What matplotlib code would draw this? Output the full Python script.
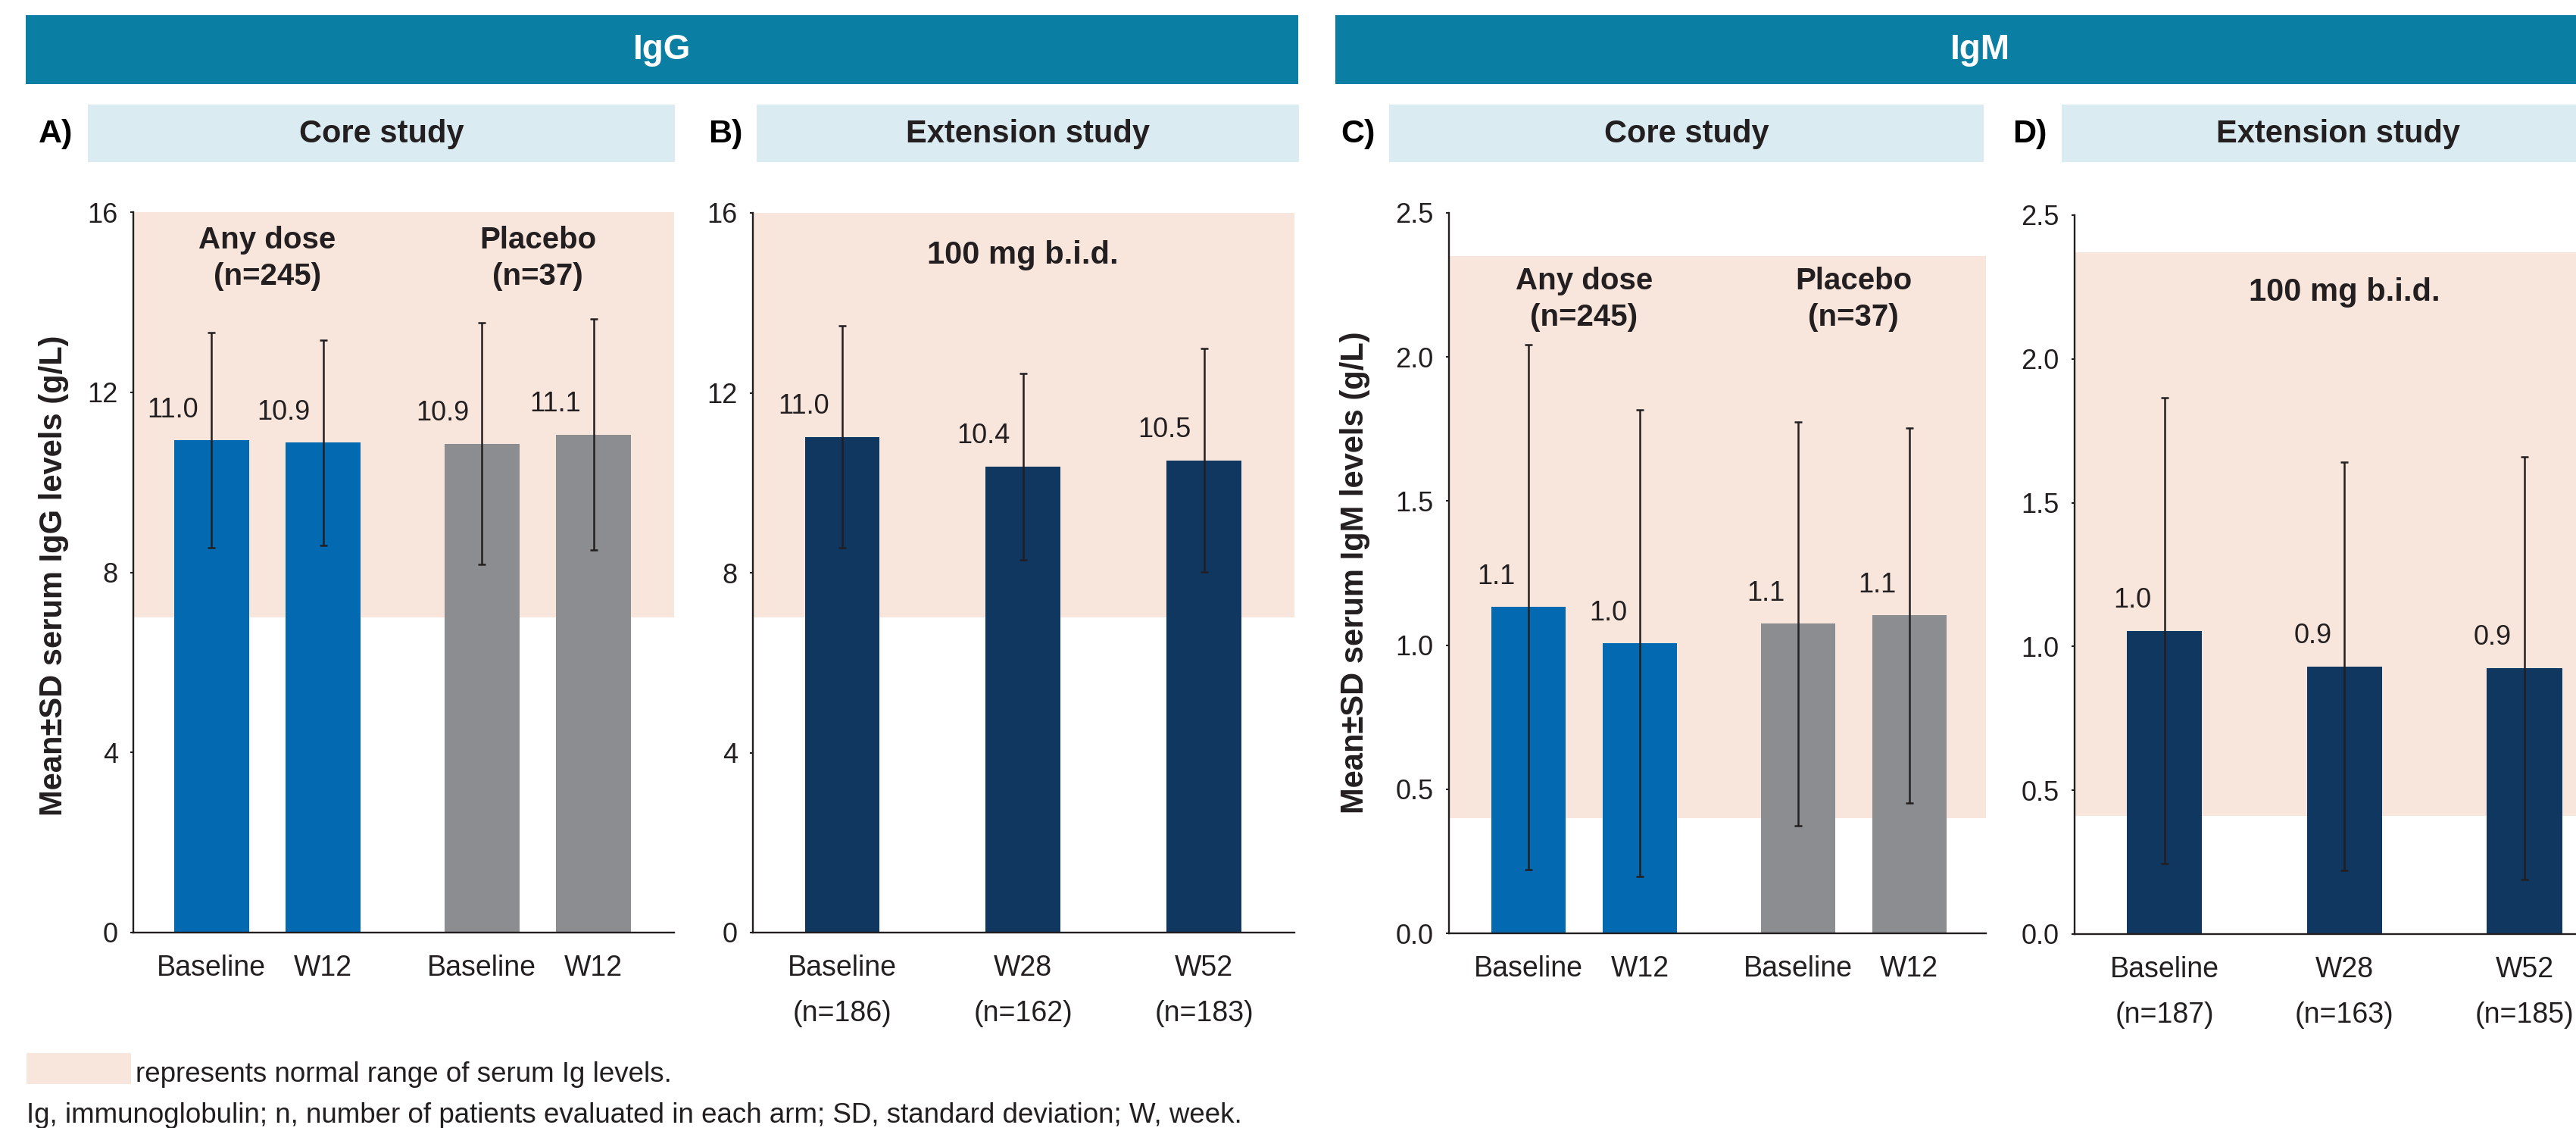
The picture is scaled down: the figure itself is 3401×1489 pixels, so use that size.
import matplotlib
matplotlib.use("Agg")
import matplotlib.pyplot as plt
from matplotlib.patches import Rectangle

# ---------------- data ----------------
core_ticks = ["Baseline", "W12", "Baseline", "W12"]
core_groups = ["Any dose\n(n=245)", "Placebo\n(n=37)"]
ext_group = "100 mg b.i.d."

igg_core_means = [10.93, 10.88, 10.86, 11.06]
igg_core_sd = [2.39, 2.28, 2.68, 2.56]
igg_core_labels = ["11.0", "10.9", "10.9", "11.1"]

igg_ext_ticks = ["Baseline\n(n=186)", "W28\n(n=162)", "W52\n(n=183)"]
igg_ext_means = [11.02, 10.36, 10.50]
igg_ext_sd = [2.47, 2.07, 2.48]
igg_ext_labels = ["11.0", "10.4", "10.5"]

igm_core_means = [1.132, 1.006, 1.074, 1.103]
igm_core_sd = [0.91, 0.81, 0.70, 0.65]
igm_core_labels = ["1.1", "1.0", "1.1", "1.1"]

igm_ext_ticks = ["Baseline\n(n=187)", "W28\n(n=163)", "W52\n(n=185)"]
igm_ext_means = [1.054, 0.931, 0.925]
igm_ext_sd = [0.81, 0.71, 0.735]
igm_ext_labels = ["1.0", "0.9", "0.9"]

igg_yticks = [0, 4, 8, 12, 16]
igg_yticklabels = ["0", "4", "8", "12", "16"]
igm_yticks = [0.0, 0.5, 1.0, 1.5, 2.0, 2.5]
igm_yticklabels = ["0.0", "0.5", "1.0", "1.5", "2.0", "2.5"]

igg_normal = (7.0, 16.0)
igm_core_normal = (0.40, 2.35)
igm_ext_normal = (0.41, 2.37)

# ---------------- style ----------------
plt.rcParams["font.family"] = ["Liberation Sans", "DejaVu Sans"]
DARK = "#231F20"
TEAL = "#0B7EA3"
LIGHTBLUE = "#DBEBF2"
PINK = "#F8E6DC"
BLUE = "#0369B1"
GREY = "#8C8D91"
NAVY = "#10375F"

W, H = 3401, 1489
DPI = 100
fig = plt.figure(figsize=(W / DPI, H / DPI), dpi=DPI)


def fx(x):
    return x / W


def fy(y):
    return 1 - y / H


def add_rect(x0, y0, x1, y1, color):
    fig.add_artist(Rectangle((fx(x0), fy(y1)), (x1 - x0) / W, (y1 - y0) / H,
                             transform=fig.transFigure, facecolor=color,
                             edgecolor="none", zorder=0))


def make_ax(x0, y0, x1, y1):
    return fig.add_axes([fx(x0), fy(y1), (x1 - x0) / W, (y1 - y0) / H])


# banners
add_rect(34, 20, 1714, 111, TEAL)
fig.text(fx(874), fy(66), "IgG", color="white", fontsize=33, fontweight="bold",
         ha="center", va="center")
add_rect(1763, 20, 3470, 111, TEAL)
fig.text(fx(2614), fy(66), "IgM", color="white", fontsize=33, fontweight="bold",
         ha="center", va="center")

# sub-title boxes
subs = [(116, 891, "A)", 74, "Core study"),
        (999, 1715, "B)", 958, "Extension study"),
        (1834, 2619, "C)", 1793, "Core study"),
        (2722, 3452, "D)", 2680, "Extension study")]
for x0, x1, lab, lx, txt in subs:
    add_rect(x0, 138, x1, 214, LIGHTBLUE)
    fig.text(fx((x0 + x1) / 2), fy(177), txt, color=DARK, fontsize=30,
             fontweight="bold", ha="center", va="center")
    fig.text(fx(lx), fy(177), lab, color="black", fontsize=31,
             fontweight="bold", ha="center", va="center")


def draw_panel(ax, pos, means, sds, labels, colors, ticklabels, ylim, yticks,
               yticklabels, band, xlim, width):
    ax.set_facecolor("none")
    ax.axhspan(band[0], band[1], color=PINK, lw=0, zorder=0)
    ax.bar(pos, means, width, color=colors, zorder=2)
    ax.errorbar(pos, means, yerr=sds, fmt="none", ecolor=DARK, elinewidth=1.8,
                capsize=3.6, capthick=1.8, zorder=3)
    for x, m, l in zip(pos, means, labels):
        ax.annotate(l, (x, m), xytext=(-17, 40), textcoords="offset pixels",
                    ha="right", va="center", fontsize=26, color=DARK, zorder=4)
    ax.set_xlim(xlim)
    ax.set_ylim(ylim)
    ax.set_xticks(pos)
    ax.set_xticklabels(ticklabels, fontsize=27, linespacing=1.85, color=DARK)
    ax.set_yticks(yticks)
    ax.set_yticklabels(yticklabels, fontsize=26, color=DARK)
    for s in ("top", "right"):
        ax.spines[s].set_visible(False)
    for s in ("left", "bottom"):
        ax.spines[s].set_color(DARK)
        ax.spines[s].set_linewidth(1.7)
    ax.tick_params(axis="x", length=0, pad=21)
    ax.tick_params(axis="y", length=3, width=1.5, pad=11.5, color=DARK)


core_pos = [0, 1, 2.42, 3.42]
ext_pos = [0, 1, 2]
core_colors = [BLUE, BLUE, GREY, GREY]

# Panel A
axA = make_ax(176, 280, 890, 1231)
draw_panel(axA, core_pos, igg_core_means, igg_core_sd, igg_core_labels,
           core_colors, core_ticks, (0, 16), igg_yticks, igg_yticklabels,
           igg_normal, (-0.70, 4.14), 0.67)
for i, g in enumerate(core_groups):
    axA.text((core_pos[2 * i] + core_pos[2 * i + 1]) / 2, 14.97, g, ha="center",
             va="center", fontsize=29, fontweight="bold", color=DARK,
             linespacing=1.35)

# Panel B
axB = make_ax(994, 281, 1709, 1231)
draw_panel(axB, ext_pos, igg_ext_means, igg_ext_sd, igg_ext_labels,
           [NAVY] * 3, igg_ext_ticks, (0, 16), igg_yticks, igg_yticklabels,
           igg_normal, (-0.494, 2.50), 0.414)
axB.text(ext_pos[1], 15.06, ext_group, ha="center", va="center", fontsize=30,
         fontweight="bold", color=DARK)

# Panel C
axC = make_ax(1913, 281, 2622, 1232)
draw_panel(axC, core_pos, igm_core_means, igm_core_sd, igm_core_labels,
           core_colors, core_ticks, (0, 2.5), igm_yticks, igm_yticklabels,
           igm_core_normal, (-0.714, 4.11), 0.667)
for i, g in enumerate(core_groups):
    axC.text((core_pos[2 * i] + core_pos[2 * i + 1]) / 2, 2.20, g, ha="center",
             va="center", fontsize=29, fontweight="bold", color=DARK,
             linespacing=1.35)

# Panel D
axD = make_ax(2739, 284, 3401, 1233)
draw_panel(axD, ext_pos, igm_ext_means, igm_ext_sd, igm_ext_labels,
           [NAVY] * 3, igm_ext_ticks, (0, 2.5), igm_yticks, igm_yticklabels,
           igm_ext_normal, (-0.50, 2.286), 0.417)
axD.text(ext_pos[1], 2.23, ext_group, ha="center", va="center", fontsize=30,
         fontweight="bold", color=DARK)

# y labels
fig.text(fx(71), fy(760), "Mean\u00b1SD serum IgG levels (g/L)", rotation=90,
         ha="center", va="center", fontsize=30, fontweight="bold", color=DARK)
fig.text(fx(1789), fy(756), "Mean\u00b1SD serum IgM levels (g/L)", rotation=90,
         ha="center", va="center", fontsize=30, fontweight="bold", color=DARK)

# footnotes
add_rect(35, 1390, 173, 1431, PINK)
fig.text(fx(179), fy(1428), "represents normal range of serum Ig levels.",
         fontsize=26.5, color=DARK, ha="left", va="baseline")
fig.text(fx(35), fy(1482),
         "Ig, immunoglobulin; n, number of patients evaluated in each arm; "
         "SD, standard deviation; W, week.",
         fontsize=26.5, color=DARK, ha="left", va="baseline")

fig.savefig("out.png", dpi=DPI, facecolor="white")
